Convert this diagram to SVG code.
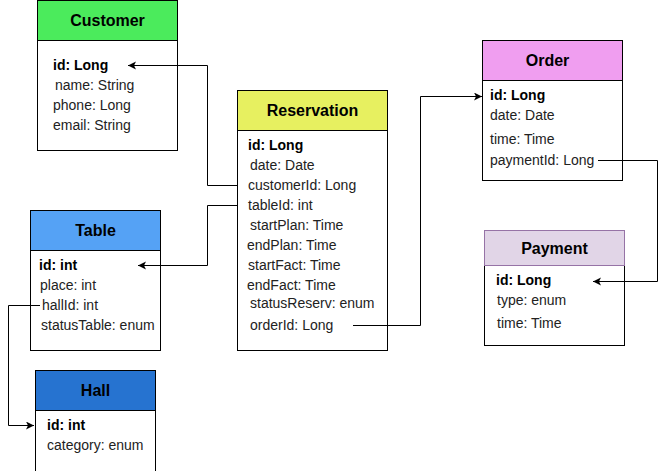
<svg xmlns="http://www.w3.org/2000/svg" width="666" height="471" viewBox="0 0 666 471">
<defs>
<marker id="arr" markerWidth="10" markerHeight="10" refX="8" refY="4" orient="auto" markerUnits="userSpaceOnUse">
<path d="M0,0 L8,4 L0,8 L2,4 Z" fill="#000"/>
</marker>
<style>
.box{fill:#fff;stroke:#000;stroke-width:1}
.hd{stroke:#000;stroke-width:1}
.t{font-family:"Liberation Sans",Arial,sans-serif;font-size:16px;font-weight:bold;fill:#000;text-anchor:middle}
.f{font-family:"Liberation Sans",Arial,sans-serif;font-size:14px;fill:#222}
.b{font-weight:bold;fill:#000}
.c{fill:none;stroke:#000;stroke-width:1}
</style>
</defs>
<rect width="666" height="471" fill="#fff"/>
<g id="customer">
<rect class="box" x="37.5" y="0.5" width="140" height="150"/>
<rect class="hd" x="37.5" y="0.5" width="140" height="40" fill="#4BEB5C"/>
<text class="t" x="107.5" y="26">Customer</text>
<text class="f b" x="53" y="70">id: Long</text>
<text class="f" x="55" y="90">name: String</text>
<text class="f" x="53" y="110">phone: Long</text>
<text class="f" x="53" y="130">email: String</text>
</g>
<g id="reservation">
<rect class="box" x="237.5" y="90.5" width="150" height="260"/>
<rect class="hd" x="237.5" y="90.5" width="150" height="40" fill="#E7F060"/>
<text class="t" x="312.5" y="116">Reservation</text>
<text class="f b" x="248" y="150">id: Long</text>
<text class="f" x="250" y="170">date: Date</text>
<text class="f" x="248" y="190">customerId: Long</text>
<text class="f" x="248" y="210">tableId: int</text>
<text class="f" x="250" y="230">startPlan: Time</text>
<text class="f" x="247" y="250">endPlan: Time</text>
<text class="f" x="248" y="270">startFact: Time</text>
<text class="f" x="247" y="290">endFact: Time</text>
<text class="f" x="250" y="308">statusReserv: enum</text>
<text class="f" x="250" y="330">orderId: Long</text>
</g>
<g id="order">
<rect class="box" x="482.5" y="40.5" width="140" height="140"/>
<rect class="hd" x="482.5" y="40.5" width="140" height="40" fill="#F09EF0"/>
<text class="t" x="547.5" y="66">Order</text>
<text class="f b" x="490" y="100">id: Long</text>
<text class="f" x="490" y="120">date: Date</text>
<text class="f" x="490" y="144">time: Time</text>
<text class="f" x="490" y="165">paymentId: Long</text>
</g>
<g id="payment">
<rect class="box" x="484.5" y="230.5" width="140" height="115"/>
<rect x="484.5" y="230.5" width="140" height="35" fill="#E1D5E7" stroke="#9673A6" stroke-width="1"/>
<text class="t" x="554.5" y="254">Payment</text>
<text class="f b" x="496" y="285">id: Long</text>
<text class="f" x="497" y="305">type: enum</text>
<text class="f" x="497" y="328">time: Time</text>
</g>
<g id="table">
<rect class="box" x="30.5" y="210.5" width="130" height="140"/>
<rect class="hd" x="30.5" y="210.5" width="130" height="40" fill="#55A2F5"/>
<text class="t" x="95.5" y="236">Table</text>
<text class="f b" x="39" y="270">id: int</text>
<text class="f" x="40" y="290">place: int</text>
<text class="f" x="42" y="310">hallId: int</text>
<text class="f" x="41" y="330">statusTable: enum</text>
</g>
<g id="hall">
<rect class="box" x="35.5" y="370.5" width="120" height="110"/>
<rect class="hd" x="35.5" y="370.5" width="120" height="40" fill="#2673D0"/>
<text class="t" x="95.5" y="396">Hall</text>
<text class="f b" x="47" y="430">id: int</text>
<text class="f" x="47" y="450">category: enum</text>
</g>
<g id="connectors">
<polyline class="c" points="237,185.5 207.5,185.5 207.5,65.5 128,65.5" marker-end="url(#arr)"/>
<polyline class="c" points="237,205.5 207.5,205.5 207.5,265.5 138,265.5" marker-end="url(#arr)"/>
<polyline class="c" points="353,325.5 420.5,325.5 420.5,96.5 482,96.5" marker-end="url(#arr)"/>
<polyline class="c" points="598,160.5 657.5,160.5 657.5,281.5 593,281.5" marker-end="url(#arr)"/>
<polyline class="c" points="40,305.5 8.5,305.5 8.5,425.5 34,425.5" marker-end="url(#arr)"/>
</g>
</svg>
